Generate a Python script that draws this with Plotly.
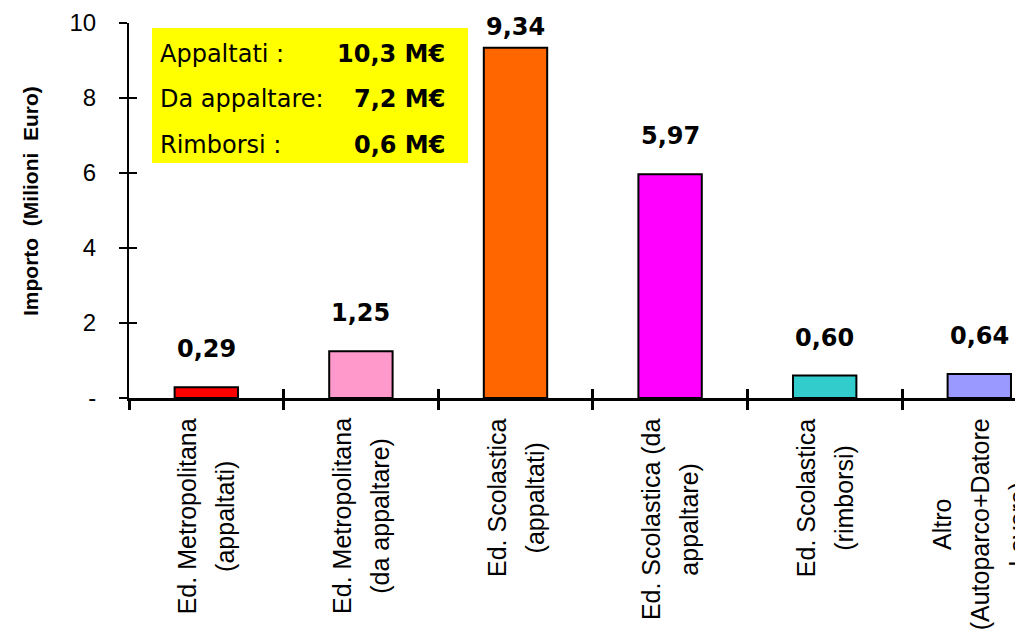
import plotly.graph_objects as go

# ---- data ----
categories = [
    "Ed. Metropolitana<br>(appaltati)",
    "Ed. Metropolitana<br>(da appaltare)",
    "Ed. Scolastica<br>(appaltati)",
    "Ed. Scolastica (da<br>appaltare)",
    "Ed. Scolastica<br>(rimborsi)",
    "Altro<br>(Autoparco+Datore<br>Lavoro)",
]
values = [0.29, 1.25, 9.34, 5.97, 0.60, 0.64]
bar_colors = ["#FF0000", "#FF99CC", "#FF6600", "#FF00FF", "#33CCCC", "#9999FF"]
ytick_vals = [0, 2, 4, 6, 8, 10]
ytick_text = ["-", "2", "4", "6", "8", "10"]
summary_labels = ["Appaltati :", "Da appaltare:", "Rimborsi :"]
summary_values = ["10,3 M€", "7,2 M€", "0,6 M€"]
y_title = "Importo\u00a0\u00a0(Milioni\u00a0\u00a0Euro)"

# ---- layout constants (page has an 8px body margin) ----
BODY = 8
W, H = 1023 - BODY, 629 - BODY
X0_PAGE, Y0_PAGE = 129, 398          # plot origin on the page
ML, MT = X0_PAGE - BODY, 23 - BODY
MR = 0
plot_w = W - ML - MR
plot_h = Y0_PAGE - 23
MB = H - MT - plot_h
FONT_WIDE = "DejaVu Sans, Verdana, sans-serif"
FONT = "Liberation Sans, Arial, sans-serif"
cat_px = 154.6
x_range = [-0.5, -0.5 + plot_w / cat_px]
y_range = [0, 10]
px_per_unit = plot_h / (y_range[1] - y_range[0])


def px_x(p):
    return (p - X0_PAGE) / plot_w


def px_y(p):
    return (Y0_PAGE - p) / plot_h


fig = go.Figure()
fig.add_trace(go.Bar(
    x=categories, y=values, width=0.41,
    marker=dict(color=bar_colors, line=dict(color="black", width=2)),
    hoverinfo="skip", showlegend=False,
))
# invisible trace to activate overlay axes (ticks crossing the axis lines)
fig.add_trace(go.Scatter(
    x=categories, y=values, xaxis="x2", yaxis="y2", mode="markers",
    marker=dict(opacity=0), hoverinfo="skip", showlegend=False,
))

annotations = []
# value labels
for c, v in zip(categories, values):
    headroom = (y_range[1] - v) * px_per_unit + MT - 35
    annotations.append(dict(
        x=c, y=v, xref="x", yref="y", yanchor="bottom", showarrow=False,
        yshift=min(22, headroom),
        text="<b>" + f"{v:.2f}".replace(".", ",") + "</b>",
        font=dict(family=FONT_WIDE, size=24, color="black"),
    ))
# category labels (rotated, centered lines)
for c in categories:
    lines = c.split("<br>")
    txt = "<br>".join(f"<span style='font-size:25px'>{ln}</span>" for ln in lines)
    annotations.append(dict(
        x=c, y=0, xref="x", yref="paper", yanchor="top", xanchor="center",
        yshift=-18, textangle=-90, align="center", showarrow=False,
        text=txt, font=dict(family=FONT, size=29, color="black"),
    ))
# summary box text
row_y = [px_y(54), px_y(99), px_y(145)]
for lab, val, yy in zip(summary_labels, summary_values, row_y):
    annotations.append(dict(
        x=px_x(158), y=yy, xref="paper", yref="paper",
        xanchor="left", yanchor="middle", showarrow=False, text=lab,
        font=dict(family=FONT_WIDE, size=24, color="black"),
    ))
    annotations.append(dict(
        x=px_x(447), y=yy, xref="paper", yref="paper",
        xanchor="right", yanchor="middle", showarrow=False, text="<b>" + val + "</b>",
        font=dict(family=FONT_WIDE, size=24, color="black"),
    ))
# y-axis title
annotations.append(dict(
    x=px_x(30), y=px_y(201), xref="paper", yref="paper",
    xanchor="center", yanchor="middle", textangle=-90, showarrow=False,
    text="<b>" + y_title + "</b>", font=dict(family=FONT, size=21, color="black"),
))

fig.update_layout(
    width=W, height=H,
    margin=dict(l=ML, r=MR, t=MT, b=MB, pad=0),
    paper_bgcolor="white", plot_bgcolor="white",
    font=dict(family=FONT, color="black"),
    xaxis=dict(
        range=x_range, showticklabels=False, ticks="outside", tickson="boundaries",
        ticklen=9, tickwidth=3, tickcolor="black",
        showline=True, linewidth=3, linecolor="black",
        showgrid=False, zeroline=False, fixedrange=True,
    ),
    xaxis2=dict(
        overlaying="x", anchor="y", side="bottom", range=x_range,
        categoryorder="array", categoryarray=categories,
        showticklabels=False, ticks="inside", tickson="boundaries",
        ticklen=9, tickwidth=3, tickcolor="black",
        showline=False, showgrid=False, zeroline=False, fixedrange=True,
    ),
    yaxis=dict(
        range=y_range, tickvals=ytick_vals, ticktext=ytick_text,
        ticks="outside", ticklen=8, tickwidth=2, tickcolor="black",
        showline=True, linewidth=2, linecolor="black",
        ticklabelstandoff=18,
        tickfont=dict(family=FONT, size=24, color="black"),
        showgrid=False, zeroline=False, fixedrange=True,
    ),
    yaxis2=dict(
        overlaying="y", anchor="x", side="left", range=y_range, tickvals=ytick_vals,
        showticklabels=False, ticks="inside", ticklen=8, tickwidth=2, tickcolor="black",
        showline=False, showgrid=False, zeroline=False, fixedrange=True,
    ),
    shapes=[dict(
        type="rect", xref="paper", yref="paper",
        x0=px_x(152), x1=px_x(468), y0=px_y(163), y1=px_y(28),
        fillcolor="#FFFF00", line=dict(width=0), layer="above",
    )],
    annotations=annotations,
)

fig.write_html("out.html", config={"displayModeBar": False})
